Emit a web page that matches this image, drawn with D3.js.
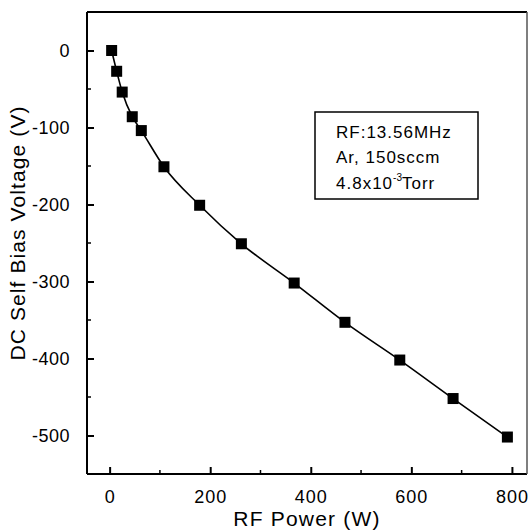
<!DOCTYPE html>
<html>
<head>
<meta charset="utf-8">
<script src="https://cdn.jsdelivr.net/npm/d3@7"></script>
<style>
html,body{margin:0;padding:0;background:#fff;}
svg{display:block;font-family:"Liberation Sans",Arial,sans-serif;}
</style>
</head>
<body>
<svg id="chart" width="529" height="531"></svg>
<script>
const power = [4, 14, 25, 45, 63, 108, 179, 262, 367, 468, 577, 683, 791];
const bias = [0, -27, -54, -86, -104, -151, -201, -251, -302, -353, -402, -452, -502];
const xTicks = [0, 200, 400, 600, 800];
const xMinor = [100, 300, 500, 700];
const yTicks = [0, -100, -200, -300, -400, -500];
const yMinor = [50, -50, -150, -250, -350, -450, -550];
const xLabel = "RF Power (W)";
const yLabel = "DC Self Bias Voltage (V)";
const noteLines = ["RF:13.56MHz", "Ar, 150sccm"];

const svg = d3.select("#chart");
const L = 87, R = 527, T = 12, B = 474;
const x = d3.scaleLinear().domain([-45, 830]).range([L, R]);
const y = d3.scaleLinear().domain([-550, 50]).range([B, T]);
const fmt = d => String(d);

// frame
svg.append("line").attr("x1", L).attr("x2", R).attr("y1", T).attr("y2", T).attr("stroke", "#000").attr("stroke-width", 2);
svg.append("line").attr("x1", L).attr("x2", L).attr("y1", T).attr("y2", B).attr("stroke", "#000").attr("stroke-width", 2);
svg.append("line").attr("x1", L).attr("x2", R).attr("y1", B).attr("y2", B).attr("stroke", "#000").attr("stroke-width", 2);
svg.append("line").attr("x1", R).attr("x2", R).attr("y1", T).attr("y2", B).attr("stroke", "#555").attr("stroke-width", 1.5);

// x axis
const gx = svg.append("g").attr("transform", `translate(0,${B})`)
  .call(d3.axisBottom(x).tickValues(xTicks).tickFormat(fmt).tickSizeInner(-7).tickSizeOuter(0).tickPadding(16));
gx.select(".domain").remove();
gx.selectAll(".tick line").attr("stroke-width", 2);
gx.selectAll("text").attr("font-size", 18).attr("letter-spacing", 1).attr("fill", "#000");
svg.append("g").selectAll("line").data(xMinor).join("line")
  .attr("x1", d => x(d)).attr("x2", d => x(d)).attr("y1", B).attr("y2", B - 4)
  .attr("stroke", "#000").attr("stroke-width", 1.5);

// y axis
const gy = svg.append("g").attr("transform", `translate(${L},0)`)
  .call(d3.axisLeft(y).tickValues(yTicks).tickFormat(fmt).tickSizeInner(-7).tickSizeOuter(0).tickPadding(17));
gy.select(".domain").remove();
gy.selectAll(".tick line").attr("stroke-width", 2);
gy.selectAll("text").attr("font-size", 18).attr("letter-spacing", 0.5).attr("fill", "#000");
svg.append("g").selectAll("line").data(yMinor).join("line")
  .attr("x1", L).attr("x2", L + 4).attr("y1", d => y(d)).attr("y2", d => y(d))
  .attr("stroke", "#000").attr("stroke-width", 1.5);

// axis titles
svg.append("text").attr("x", 307).attr("y", 526).attr("text-anchor", "middle")
  .attr("font-size", 21).attr("letter-spacing", 1.2).text(xLabel);
svg.append("text").attr("transform", "translate(25,233) rotate(-90)").attr("text-anchor", "middle")
  .attr("font-size", 21).attr("letter-spacing", 1.1).text(yLabel);

// line
const data = power.map((p, i) => ({p, v: bias[i]}));
svg.append("path").datum(data)
  .attr("d", d3.line().x(d => x(d.p)).y(d => y(d.v)).curve(d3.curveMonotoneX))
  .attr("fill", "none").attr("stroke", "#000").attr("stroke-width", 1.6);

// markers
const s = 11;
svg.append("g").selectAll("rect").data(data).join("rect")
  .attr("x", d => x(d.p) - s / 2).attr("y", d => y(d.v) - s / 2)
  .attr("width", s).attr("height", s).attr("fill", "#000");

// annotation box
svg.append("rect").attr("x", 315).attr("y", 112).attr("width", 163).attr("height", 87)
  .attr("fill", "#fff").attr("stroke", "#000").attr("stroke-width", 1.5);
const note = svg.append("g").attr("font-size", 17).attr("letter-spacing", 1);
note.append("text").attr("x", 336).attr("y", 138).text(noteLines[0]);
note.append("text").attr("x", 336).attr("y", 163).text(noteLines[1]);
const t3 = note.append("text").attr("x", 336).attr("y", 189);
t3.append("tspan").text("4.8x10");
t3.append("tspan").attr("font-size", 10).attr("dy", -8).attr("letter-spacing", 0).text("-3");
t3.append("tspan").attr("dy", 8).text("Torr");
</script>
</body>
</html>
